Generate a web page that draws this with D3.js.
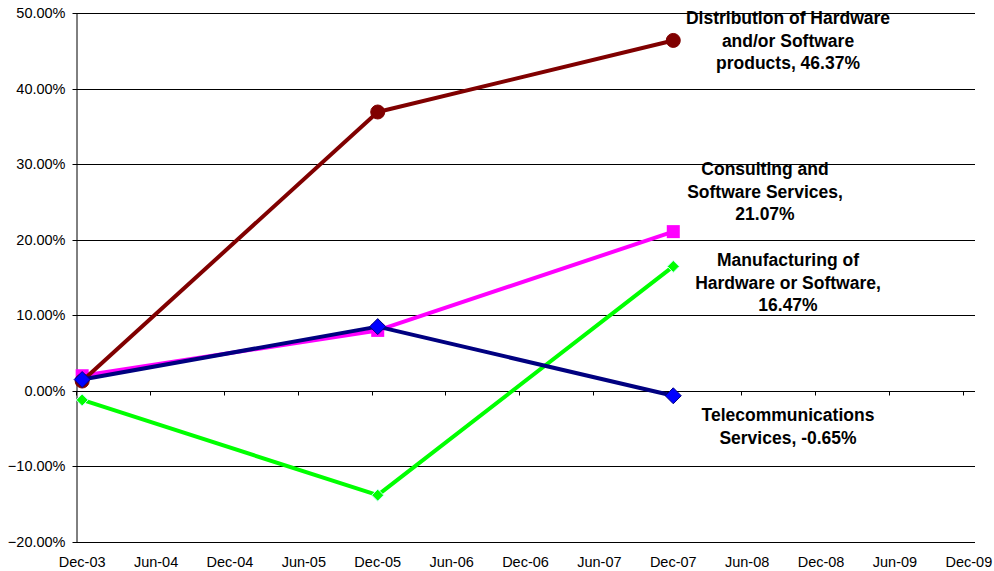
<!DOCTYPE html>
<html>
<head>
<meta charset="utf-8">
<script src="https://cdn.jsdelivr.net/npm/d3@7"></script>
<style>
  body { margin: 0; background: #fff; }
  text { font-family: Arial, "Liberation Sans", sans-serif; }
</style>
</head>
<body>
<svg id="chart" width="994" height="571"></svg>
<script>
// data (percent)
const periods = ["Dec-03", "Dec-05", "Dec-07"];
const distribution = [1.3, 36.9, 46.37];
const consulting = [2.0, 8.0, 21.07];
const manufacturing = [-1.2, -13.8, 16.47];
const telecom = [1.5, 8.5, -0.65];

const xTickLabels = ["Dec-03", "Jun-04", "Dec-04", "Jun-05", "Dec-05", "Jun-06", "Dec-06",
  "Jun-07", "Dec-07", "Jun-08", "Dec-08", "Jun-09", "Dec-09"];
const yTicks = [-20, -10, 0, 10, 20, 30, 40, 50];

const seriesNames = [
  ["Distribution of Hardware", "and/or Software", "products, 46.37%"],
  ["Consulting and", "Software Services,", "21.07%"],
  ["Manufacturing of", "Hardware or Software,", "16.47%"],
  ["Telecommunications", "Services, -0.65%"]
];

const months = ["Jan","Feb","Mar","Apr","May","Jun","Jul","Aug","Sep","Oct","Nov","Dec"];
// month index counted from Dec-03
function monthIndex(label) {
  let [m, yy] = label.split("-");
  return (2000 + +yy - 2003) * 12 + months.indexOf(m) - 11;
}

(function () {
  let svg = d3.select("#chart");
  let pLeft = 76, pRight = 975, pTop = 13, pBottom = 542;

  let x = d3.scaleLinear().domain([0, 73]).range([pLeft, pRight]);
  let y = d3.scaleLinear().domain([-20, 50]).range([pBottom, pTop]);

  // gridlines
  svg.append("g").selectAll("line").data(yTicks).enter().append("line")
    .attr("x1", pLeft).attr("x2", pRight)
    .attr("y1", d => Math.round(y(d)) + 0.5).attr("y2", d => Math.round(y(d)) + 0.5)
    .attr("stroke", "#000").attr("stroke-width", 1);

  // y axis
  let yAxis = d3.axisLeft(y).tickValues(yTicks).tickSize(4).tickSizeOuter(0)
    .tickFormat(d => d3.format(".2f")(d) + "%");
  let gy = svg.append("g").attr("transform", `translate(${pLeft + 0.5},0)`).call(yAxis);
  gy.select(".domain").attr("stroke", "#000");
  gy.selectAll(".tick").attr("transform", d => `translate(0,${Math.round(y(d)) + 0.5})`);
  gy.selectAll(".tick text").attr("font-size", 14.5).attr("fill", "#000")
    .attr("font-family", "Arial, 'Liberation Sans', sans-serif").attr("x", -11);

  // x axis sits on the 0% line, labels at the bottom
  let tickIdx = xTickLabels.map(monthIndex);
  let y0 = Math.round(y(0)) + 0.5;
  svg.append("g").selectAll("line").data(tickIdx).enter().append("line")
    .attr("x1", d => Math.round(x(d)) + 0.5).attr("x2", d => Math.round(x(d)) + 0.5)
    .attr("y1", y0).attr("y2", y0 + 4)
    .attr("stroke", "#000");
  svg.append("g").selectAll("text").data(xTickLabels).enter().append("text")
    .attr("x", d => x(monthIndex(d) + 0.5))
    .attr("y", 567)
    .attr("text-anchor", "middle")
    .attr("font-size", 14.5)
    .text(d => d);

  let series = [
    {values: consulting, color: "#ff00ff", marker: "square", size: 13, fill: "#ff00ff", edge: "#ff00ff"},
    {values: distribution, color: "#800000", marker: "circle", size: 14, fill: "#800000", edge: "#800000"},
    {values: manufacturing, color: "#00ff00", marker: "diamond", size: 10, fill: "#00ff00", edge: "#ccffff"},
    {values: telecom, color: "#000080", marker: "diamond", size: 14, fill: "#0000ff", edge: "#000080"}
  ];

  let px = (d, i) => x(monthIndex(periods[i]) + 0.5);
  let line = d3.line().x(px).y(d => y(d));

  series.forEach(s => {
    let g = svg.append("g");
    g.append("path").datum(s.values).attr("d", line)
      .attr("fill", "none").attr("stroke", s.color).attr("stroke-width", 4)
      .attr("stroke-linejoin", "round");
    let pts = g.selectAll(".pt").data(s.values).enter();
    if (s.marker === "circle") {
      pts.append("circle").attr("cx", px).attr("cy", d => y(d)).attr("r", s.size / 2)
        .attr("fill", s.fill).attr("stroke", s.edge);
    } else if (s.marker === "square") {
      pts.append("rect").attr("x", (d, i) => px(d, i) - s.size / 2).attr("y", d => y(d) - s.size / 2)
        .attr("width", s.size).attr("height", s.size).attr("fill", s.fill);
    } else {
      let r = s.size / 2 + 1;
      pts.append("path")
        .attr("d", (d, i) => `M${px(d, i)},${y(d) - r}L${px(d, i) + r},${y(d)}L${px(d, i)},${y(d) + r}L${px(d, i) - r},${y(d)}Z`)
        .attr("fill", s.fill).attr("stroke", s.edge).attr("stroke-width", 1);
    }
  });

  // series labels
  let labelPos = [
    {cx: 788, y0: 24},
    {cx: 765, y0: 175},
    {cx: 788, y0: 266},
    {cx: 788, y0: 421}
  ];
  seriesNames.forEach((lines, k) => {
    let t = svg.append("text").attr("text-anchor", "middle")
      .attr("font-size", 17.5).attr("font-weight", "bold");
    lines.forEach((ln, j) => {
      t.append("tspan").attr("x", labelPos[k].cx).attr("y", labelPos[k].y0 + j * 22.5).text(ln);
    });
  });
})();
</script>
</body>
</html>
